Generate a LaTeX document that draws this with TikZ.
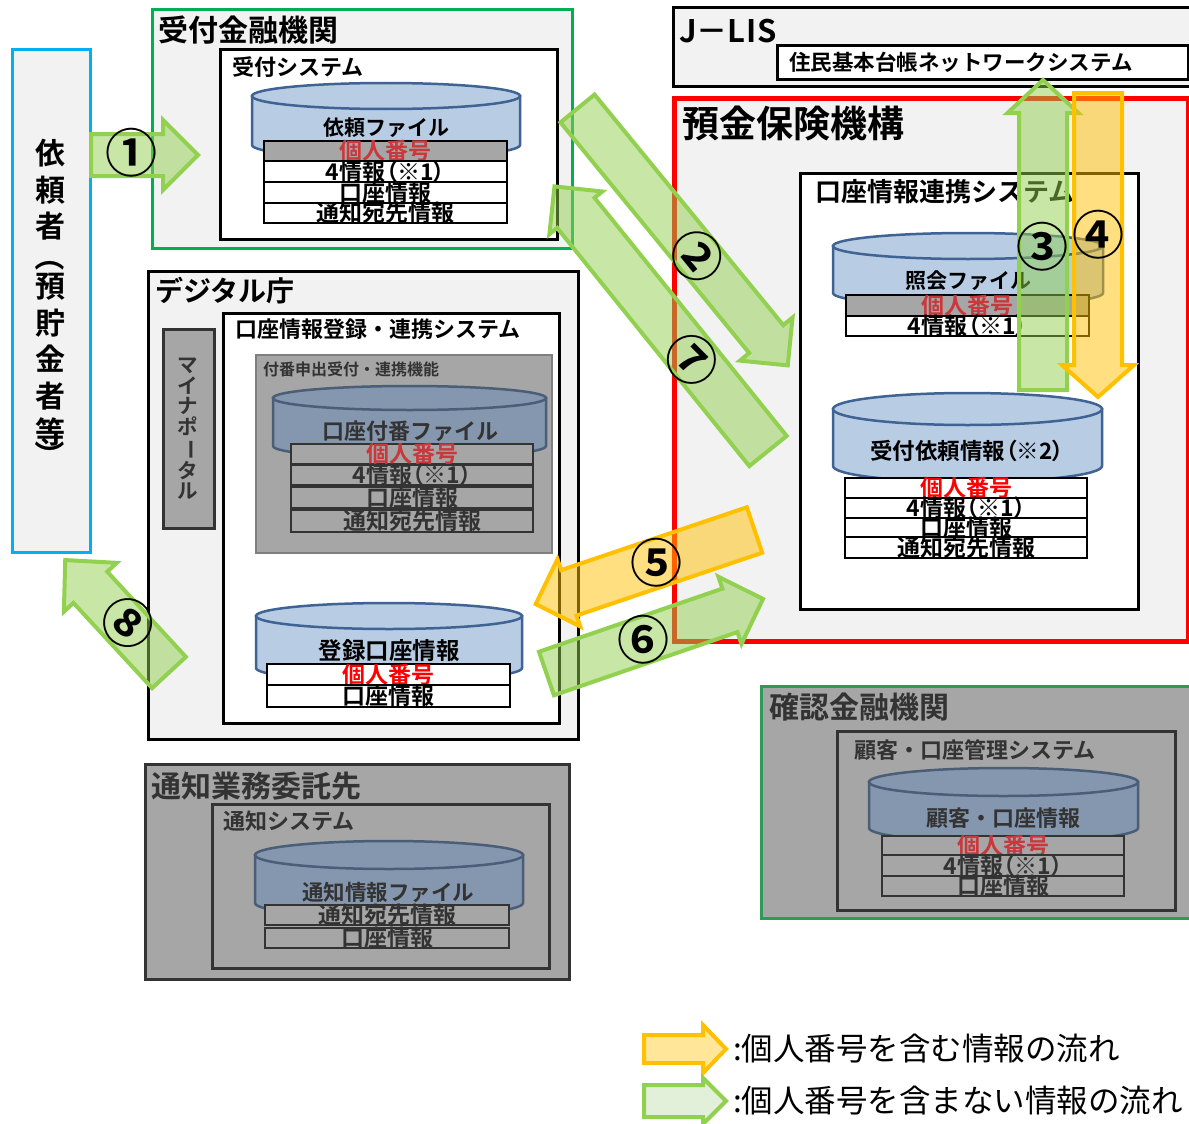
\documentclass[tikz,border=0pt]{standalone}
\usepackage{fontspec}
\setmainfont{Noto Sans CJK JP}[BoldFont={Noto Sans CJK JP Bold}]
\newfontfamily\pfont{Noto Sans CJK JP}[BoldFont={Noto Sans CJK JP Bold}, RawFeature=+palt]
\definecolor{boxgray}{HTML}{F2F2F2}
\definecolor{dimgray}{HTML}{A6A6A6}
\definecolor{cylblue}{HTML}{B8CCE4}
\definecolor{cyledge}{HTML}{3F6393}
\definecolor{cyldim}{HTML}{8597AE}
\definecolor{cyldimedge}{HTML}{4A5E78}
\definecolor{dimtext}{HTML}{333333}
\definecolor{dimedge}{HTML}{333333}
\definecolor{pnred}{HTML}{C8383C}
\definecolor{pnbright}{HTML}{FF0000}
\definecolor{agreen}{HTML}{92D050}
\definecolor{ayellow}{HTML}{FFC000}
\definecolor{lgreen}{HTML}{E2F0D9}
\definecolor{lyellow}{HTML}{FFE699}
\definecolor{bankgreen}{HTML}{00B050}
\definecolor{cyanb}{HTML}{00B0F0}
\definecolor{confgreen}{HTML}{2F9A55}
\definecolor{funcedge}{HTML}{7F7F7F}
\newcommand\fsz[1]{\fontsize{#1pt}{#1pt}\selectfont}
\tikzset{
  boxframe/.style={draw=black, line width=3pt, fill=white},
  ttl/.style={anchor=west, inner sep=0pt, font=\fsz{#1}\bfseries},
  cttl/.style={anchor=center, inner sep=0pt, font=\fsz{#1}\bfseries},
  rowbox/.style={draw=black, line width=1.6pt, fill=white, inner sep=0pt, font=\fsz{23}\bfseries, text height=17pt, text depth=0pt},
  garrow/.style={draw=agreen, line width=4pt, fill=agreen, fill opacity=0.5, miter limit=20},
  yarrow/.style={draw=ayellow, line width=4pt, fill=ayellow, fill opacity=0.5, miter limit=20},
  numlabel/.style={inner sep=0pt, font=\fsz{52}\bfseries},
}
% box node: name, x1, y1, x2, y2, style
\newcommand\boxn[6]{\node[#6, inner sep=0pt, minimum width={(#4)-(#2)}, minimum height={(#5)-(#3)}, anchor=north west] (#1) at (#2,#3) {};}
% table row: name, x1, x2, y1, y2, fill, text colour, draw colour, text
\newcommand\trow[9]{\node[rowbox, fill=#6, text=#7, draw=#8, minimum width={(#3)-(#2)}, minimum height={(#5)-(#4)}] (#1) at ({((#2)+(#3))/2},{((#4)+(#5))/2}) {#9};}
% cylinder: x1, x2, ytop, ybot, ry, fill, draw
\newcommand\cyl[7]{%
  \pgfmathsetmacro\cylxr{((#2)-(#1))/2}%
  \path[fill=#6, draw=#7, line width=2.5pt] (#1,#3) -- (#1,#4) arc[start angle=180, end angle=360, x radius=\cylxr pt, y radius=#5 pt] -- (#2,#3) -- cycle;
  \path[fill=#6, draw=#7, line width=2.5pt] ({((#1)+(#2))/2},#3) ellipse[x radius=\cylxr pt, y radius=#5 pt];}
% block arrow: x, y (tail centre), angle, length, shaft width, head width, head length, style
\newcommand\barrow[8]{%
  \begin{scope}[shift={(#1,#2)}, rotate=#3]
    \path[#8] (0,{-(#5)/2}) -- ({(#4)-(#7)},{-(#5)/2}) -- ({(#4)-(#7)},{-(#6)/2}) -- (#4,0) -- ({(#4)-(#7)},{(#6)/2}) -- ({(#4)-(#7)},{(#5)/2}) -- (0,{(#5)/2}) -- cycle;
  \end{scope}}
\newcommand\vparl{\rotatebox[origin=c]{-90}{（}}
\newcommand\vparr{\rotatebox[origin=c]{-90}{）}}
\begin{document}
\begin{tikzpicture}[x=1pt, y=-1pt]
\useasboundingbox (0,0) rectangle (1189,1124);
\fill[white] (0,0) rectangle (1189,1124);

% ---------- requester ----------
\boxn{req}{11}{48}{89}{551}{draw=cyanb, line width=3pt, fill=boxgray}
\node[align=center, inner sep=0pt, font=\fontsize{30pt}{36.5pt}\selectfont\bfseries] (reqtext) at (50,305) {依\\頼\\者\\[-6.5pt]\vparl\\[-6.5pt]預\\貯\\金\\者\\等\\[-13.5pt]\vparr};

% ---------- receiving bank ----------
\boxn{rbank}{151}{8}{571}{247}{draw=bankgreen, line width=3pt, fill=boxgray}
\node[ttl=30] (rbankt) at (158,30) {受付金融機関};
\boxn{rsys}{219}{48}{556}{238}{boxframe}
\node[ttl=22] (rsyst) at (232,67) {受付システム};
\cyl{252}{520}{96}{145}{13}{cylblue}{cyledge}
\node[cttl=21] (rfile) at (386,128) {依頼ファイル};
\trow{ra}{264}{507}{141}{161}{dimgray}{pnred}{black}{個人番号}
\trow{rb}{264}{507}{161}{182}{white}{black}{black}{\pfont 4情報（※1）}
\trow{rc}{264}{507}{182}{203}{white}{black}{black}{口座情報}
\trow{rd}{264}{507}{203}{223}{white}{black}{black}{通知宛先情報}

% ---------- J-LIS ----------
\boxn{jlis}{672}{6}{1196}{85}{draw=black, line width=3pt, fill=boxgray}
\node[ttl=31] (jlist) at (679,31) {J－L\kern1pt I\kern1pt S};
\boxn{juki}{776}{44}{1187}{78}{boxframe}
\node[ttl=21.5] (jukit) at (789,62) {住民基本台帳ネットワークシステム};

% ---------- DICJ ----------
\boxn{dicj}{672}{96}{1186}{639}{draw=red, line width=5pt, fill=boxgray}
\node[ttl=37] (dicjt) at (682,123) {預金保険機構};
\boxn{link}{799}{172}{1137}{608}{boxframe}
\node[ttl=26] (linkt) at (815,192) {口座情報連携システム};
\cyl{833}{1103}{246}{293}{13}{cylblue}{cyledge}
\node[cttl=21] (qfile) at (968,281) {照会ファイル};
\trow{qa}{846}{1089}{295}{316}{dimgray}{pnred}{black}{個人番号}
\trow{qb}{846}{1089}{316}{336}{white}{black}{black}{\pfont 4情報（※1）}
\cyl{833}{1102}{409}{466}{16}{cylblue}{cyledge}
\node[cttl=22.5, font=\pfont\fsz{22.5}\bfseries] (afile) at (967,451) {受付依頼情報（※2）};
\trow{aa}{845}{1087}{478}{498}{white}{pnbright}{black}{個人番号}
\trow{ab}{845}{1087}{498}{518}{white}{black}{black}{\pfont 4情報（※1）}
\trow{ac}{845}{1087}{518}{537}{white}{black}{black}{口座情報}
\trow{ad}{845}{1087}{537}{558}{white}{black}{black}{通知宛先情報}

% ---------- Digital Agency ----------
\boxn{da}{147}{270}{577}{738}{draw=black, line width=3pt, fill=boxgray}
\node[ttl=28] (dat) at (155,291) {デジタル庁};
\boxn{mp}{162}{328}{213}{527}{draw=dimedge, line width=3pt, fill=dimgray}
\node[align=center, inner sep=0pt, text=dimtext, font=\fontsize{20.5pt}{20.5pt}\selectfont\bfseries] (mpt) at (188,429) {マ\\イ\\ナ\\ポ\\\rotatebox[origin=c]{-90}{ー}\\タ\\ル};
\boxn{reg}{222}{312}{558}{722}{boxframe}
\node[ttl=22] (regt) at (235,329) {口座情報登録・連携システム};
\boxn{func}{255}{354}{551}{552}{draw=funcedge, line width=2pt, fill=dimgray}
\node[ttl=16, text=dimtext] (funct) at (263,369) {付番申出受付・連携機能};
\cyl{273}{546}{398}{446}{12}{cyldim}{cyldimedge}
\node[cttl=22, text=dimtext] (nfile) at (410,431) {口座付番ファイル};
\trow{na}{291}{533}{444}{464}{dimgray}{pnred}{dimedge}{個人番号}
\trow{nb}{291}{533}{465}{485}{dimgray}{dimtext}{dimedge}{\pfont 4情報（※1）}
\trow{nc}{291}{533}{487}{508}{dimgray}{dimtext}{dimedge}{口座情報}
\trow{nd}{291}{533}{510}{532}{dimgray}{dimtext}{dimedge}{通知宛先情報}
\cyl{256}{522}{616}{668}{13}{cylblue}{cyledge}
\node[cttl=23.5] (gfile) at (389,651) {登録口座情報};
\trow{ga}{267}{510}{664}{685}{white}{pnbright}{black}{個人番号}
\trow{gb}{267}{510}{685}{707}{white}{black}{black}{口座情報}

% ---------- notification contractor ----------
\boxn{nt}{144}{763}{568}{978}{draw=dimedge, line width=3pt, fill=dimgray}
\node[ttl=30, text=dimtext] (ntt) at (151,786) {通知業務委託先};
\boxn{nsys}{211}{803}{548}{967}{draw=dimedge, line width=3pt, fill=dimgray}
\node[ttl=22, text=dimtext] (nsyst) at (223,821) {通知システム};
\cyl{255}{523}{855}{903}{14}{cyldim}{cyldimedge}
\node[cttl=21.5, text=dimtext] (tfile) at (388,892) {通知情報ファイル};
\trow{ta}{265}{509}{905}{925}{dimgray}{dimtext}{dimedge}{通知宛先情報}
\trow{tb}{265}{509}{928}{948}{dimgray}{dimtext}{dimedge}{口座情報}

% ---------- confirming bank ----------
\boxn{cb}{760}{685}{1196}{917}{draw=confgreen, line width=3pt, fill=dimgray}
\node[ttl=30, text=dimtext] (cbt) at (769,707) {確認金融機関};
\boxn{csys}{836}{730}{1174}{909}{draw=dimedge, line width=3pt, fill=dimgray}
\node[ttl=22, text=dimtext] (csyst) at (854,750) {顧客・口座管理システム};
\cyl{869}{1138}{782}{828}{14}{cyldim}{cyldimedge}
\node[cttl=22, text=dimtext] (cfile) at (1003,818) {顧客・口座情報};
\trow{ca}{882}{1124}{836}{855}{dimgray}{pnred}{dimedge}{個人番号}
\trow{cbb}{882}{1124}{855}{876}{dimgray}{dimtext}{dimedge}{\pfont 4情報（※1）}
\trow{cc}{882}{1124}{876}{896}{dimgray}{dimtext}{dimedge}{口座情報}

% ---------- flows ----------
\barrow{91}{155}{0}{107}{42}{70}{35}{garrow}
\barrow{577.5}{108.5}{-50.7}{332}{44}{68}{34}{garrow}
\barrow{768}{451}{128.9}{340}{48}{68}{34}{garrow}
\barrow{1043}{390}{90}{310}{48}{71}{33}{garrow}
\barrow{1098}{93}{-90}{304}{48}{72}{32}{yarrow}
\barrow{754.5}{530}{-161.3}{231}{48}{71}{35}{yarrow}
\barrow{546.5}{673.5}{19}{229}{46}{71}{35}{garrow}
\barrow{169}{672.5}{132.7}{153}{46}{72}{37}{garrow}

\node[numlabel] (n1) at (131,153) {①};
\node[numlabel, rotate=-51] (n2) at (697,256) {②};
\node[numlabel] (n3) at (1042,247) {③};
\node[numlabel] (n4) at (1098,235) {④};
\node[numlabel] (n5) at (656,563) {⑤};
\node[numlabel] (n6) at (643,640) {⑥};
\node[numlabel, rotate=-45] (n7) at (692,360) {⑦};
\node[numlabel, rotate=-40] (n8) at (128,623) {⑧};

% ---------- legend ----------
\barrow{644}{1049}{0}{82}{28}{48}{23}{draw=ayellow, line width=4pt, fill=lyellow}
\barrow{644}{1101}{0}{82}{32}{46}{23}{draw=agreen, line width=4pt, fill=lgreen}
\node[anchor=west, inner sep=0pt, font=\fsz{31.5}] (leg1) at (733,1049) {:個人番号を含む情報の流れ};
\node[anchor=west, inner sep=0pt, font=\fsz{31.5}] (leg2) at (733,1101) {:個人番号を含まない情報の流れ};
\end{tikzpicture}
\end{document}
